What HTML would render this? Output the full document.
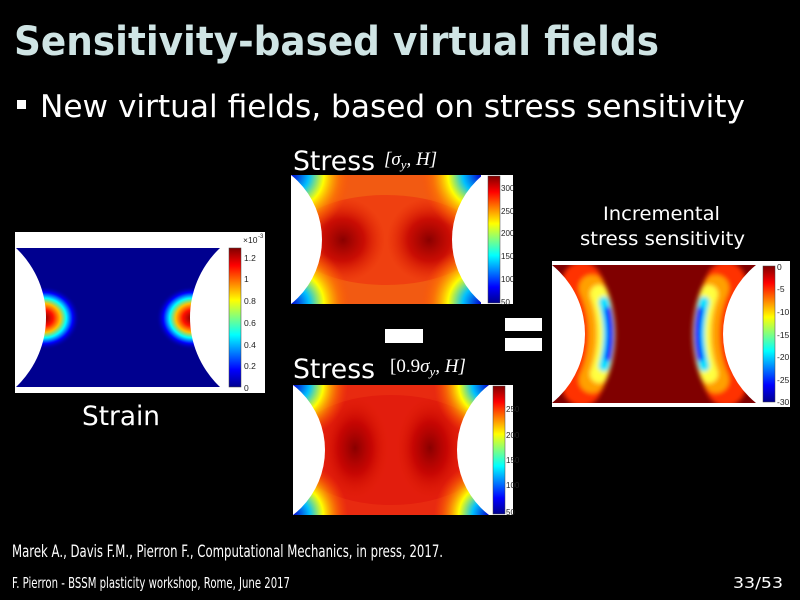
<!DOCTYPE html>
<html><head><meta charset="utf-8"><style>
html,body{margin:0;padding:0;background:#000;}
svg{display:block;}
</style></head><body>
<svg width="800" height="600" viewBox="0 0 800 600" xmlns="http://www.w3.org/2000/svg">
<defs>
<linearGradient id="jet" x1="0" y1="1" x2="0" y2="0">
<stop offset="0" stop-color="#00008f"/><stop offset="0.125" stop-color="#0000ff"/>
<stop offset="0.375" stop-color="#00ffff"/><stop offset="0.625" stop-color="#ffff00"/>
<stop offset="0.875" stop-color="#ff0000"/><stop offset="1" stop-color="#800000"/>
</linearGradient>
<radialGradient id="hot">
<stop offset="0" stop-color="#800000"/><stop offset="0.25" stop-color="#ff1000"/>
<stop offset="0.45" stop-color="#ffc000"/><stop offset="0.62" stop-color="#00ffff"/>
<stop offset="0.8" stop-color="#0000ff"/><stop offset="1" stop-color="#00008f" stop-opacity="0"/>
</radialGradient>
<radialGradient id="corner">
<stop offset="0" stop-color="#0000d0"/><stop offset="0.3" stop-color="#00c0ff"/>
<stop offset="0.55" stop-color="#ffff00"/><stop offset="0.8" stop-color="#ff8000" stop-opacity="0.6"/>
<stop offset="1" stop-color="#ff5000" stop-opacity="0"/>
</radialGradient>
<radialGradient id="blob">
<stop offset="0" stop-color="#8a0000"/><stop offset="0.5" stop-color="#c00000" stop-opacity="0.8"/>
<stop offset="1" stop-color="#e02000" stop-opacity="0"/>
</radialGradient>
<filter id="bl" filterUnits="userSpaceOnUse" x="540" y="250" width="260" height="170"><feGaussianBlur stdDeviation="2.5"/></filter>
<clipPath id="c1"><rect x="16" y="248" width="206" height="139"/></clipPath>
<clipPath id="c2"><rect x="291" y="175" width="190" height="129"/></clipPath>
<clipPath id="c3"><rect x="293" y="385" width="196" height="130"/></clipPath>
<clipPath id="c4"><rect x="552" y="265" width="204" height="138"/></clipPath>
</defs>

<text x="14" y="55" font-family="DejaVu Sans" font-weight="bold" font-size="40" fill="#cfe4e4" textLength="645" lengthAdjust="spacingAndGlyphs">Sensitivity-based virtual fields</text>
<rect x="17" y="100" width="9" height="9" fill="#fff"/>
<text x="40" y="117" font-family="DejaVu Sans" font-size="31" fill="#fff" textLength="705" lengthAdjust="spacingAndGlyphs">New virtual fields, based on stress sensitivity</text>

<!-- Strain panel -->
<rect x="15" y="232" width="250" height="161" fill="#fff"/>
<g clip-path="url(#c1)">
<rect x="16" y="248" width="206" height="139" fill="#00008f"/>
<ellipse cx="44" cy="318" rx="36" ry="32" fill="url(#hot)"/>
<ellipse cx="192" cy="318" rx="36" ry="32" fill="url(#hot)"/>
<circle cx="-49.5" cy="317.5" r="95.5" fill="#fff"/>
<circle cx="285.5" cy="317.5" r="95.5" fill="#fff"/>
</g>
<rect x="229" y="248" width="12" height="139" fill="url(#jet)" stroke="#444" stroke-width="0.5"/>
<g font-family="Liberation Sans" font-size="8.5" fill="#222">
<text x="243" y="243">×10</text><text x="258" y="238" font-size="6">-3</text>
<text x="244" y="261">1.2</text><text x="244" y="282">1</text><text x="244" y="304">0.8</text>
<text x="244" y="326">0.6</text><text x="244" y="348">0.4</text><text x="244" y="369">0.2</text><text x="244" y="391">0</text>
</g>
<text x="82" y="425" font-family="DejaVu Sans" font-size="27" fill="#fff" textLength="78" lengthAdjust="spacingAndGlyphs">Strain</text>

<!-- Stress top -->
<text x="293" y="170" font-family="DejaVu Sans" font-size="27" fill="#fff" textLength="82" lengthAdjust="spacingAndGlyphs">Stress</text>
<text x="384" y="165" font-family="Liberation Serif" font-style="italic" font-size="19" fill="#fff">[σ<tspan font-size="13" dy="4">y</tspan><tspan dy="-4">, H]</tspan></text>
<rect x="291" y="175" width="222" height="129" fill="#fff"/>
<g clip-path="url(#c2)">
<rect x="291" y="175" width="190" height="129" fill="#f25a12"/>
<ellipse cx="386" cy="240" rx="95" ry="45" fill="#ee3a10" opacity="0.8"/>
<ellipse cx="343" cy="240" rx="42" ry="42" fill="url(#blob)"/>
<ellipse cx="429" cy="240" rx="42" ry="42" fill="url(#blob)"/>
<circle cx="291" cy="175" r="60" fill="url(#corner)"/>
<circle cx="481" cy="175" r="60" fill="url(#corner)"/>
<circle cx="291" cy="304" r="60" fill="url(#corner)"/>
<circle cx="481" cy="304" r="60" fill="url(#corner)"/>
<circle cx="239.4" cy="239.5" r="82.6" fill="#fff"/>
<circle cx="534.6" cy="239.5" r="82.6" fill="#fff"/>
</g>
<rect x="488" y="176" width="12" height="127" fill="url(#jet)" stroke="#444" stroke-width="0.5"/>
<g font-family="Liberation Sans" font-size="8" fill="#222">
<text x="501" y="191">300</text><text x="501" y="214">250</text><text x="501" y="236">200</text>
<text x="501" y="259">150</text><text x="501" y="282">100</text><text x="501" y="305">50</text>
</g>

<!-- minus / equals -->
<rect x="385" y="329" width="38" height="14" fill="#fff"/>
<rect x="505" y="318" width="37" height="13" fill="#fff"/>
<rect x="505" y="338" width="37" height="13" fill="#fff"/>

<!-- Stress bottom -->
<text x="293" y="378" font-family="DejaVu Sans" font-size="27" fill="#fff" textLength="82" lengthAdjust="spacingAndGlyphs">Stress</text>
<text x="390" y="372" font-family="Liberation Serif" font-style="italic" font-size="19" fill="#fff"><tspan font-style="normal">[0.9</tspan>σ<tspan font-size="13" dy="4">y</tspan><tspan dy="-4">, H]</tspan></text>
<rect x="293" y="385" width="220" height="130" fill="#fff"/>
<g clip-path="url(#c3)">
<rect x="293" y="385" width="196" height="130" fill="#e82a10"/>
<ellipse cx="391" cy="450" rx="100" ry="55" fill="#e01a0c" opacity="0.8"/>
<ellipse cx="355" cy="448" rx="34" ry="52" fill="url(#blob)"/>
<ellipse cx="430" cy="448" rx="34" ry="52" fill="url(#blob)"/>
<circle cx="293" cy="385" r="55" fill="url(#corner)"/>
<circle cx="489" cy="385" r="55" fill="url(#corner)"/>
<circle cx="293" cy="515" r="55" fill="url(#corner)"/>
<circle cx="489" cy="515" r="55" fill="url(#corner)"/>
<circle cx="243" cy="450" r="82" fill="#fff"/>
<circle cx="539" cy="450" r="82" fill="#fff"/>
</g>
<rect x="493" y="386" width="12" height="128" fill="url(#jet)" stroke="#444" stroke-width="0.5"/>
<g font-family="Liberation Sans" font-size="8" fill="#222">
<text x="506" y="412">250</text><text x="506" y="438">200</text><text x="506" y="463">150</text>
<text x="506" y="488">100</text><text x="506" y="515">50</text>
</g>

<!-- Sensitivity -->
<text x="603" y="220" font-family="DejaVu Sans" font-size="19" fill="#fff" textLength="117" lengthAdjust="spacingAndGlyphs">Incremental</text>
<text x="580" y="245" font-family="DejaVu Sans" font-size="19" fill="#fff" textLength="165" lengthAdjust="spacingAndGlyphs">stress sensitivity</text>
<rect x="552" y="261" width="238" height="146" fill="#fff"/>
<g clip-path="url(#c4)">
<rect x="552" y="265" width="204" height="138" fill="#800000"/>
<g fill="none" stroke-linecap="round" filter="url(#bl)">
<path d="M582,282 A115,115 0 0 1 582,386" stroke="#ff3000" stroke-width="40"/>
<path d="M592,288 A115,115 0 0 1 592,380" stroke="#ffa000" stroke-width="26"/>
<path d="M599,294 A115,115 0 0 1 599,374" stroke="#ffff40" stroke-width="18"/>
<path d="M604,302 A115,115 0 0 1 604,366" stroke="#00e0ff" stroke-width="11"/>
<path d="M608,310 A115,115 0 0 1 608,358" stroke="#0000ff" stroke-width="7"/>
<path d="M726,282 A115,115 0 0 0 726,386" stroke="#ff3000" stroke-width="40"/>
<path d="M716,288 A115,115 0 0 0 716,380" stroke="#ffa000" stroke-width="26"/>
<path d="M709,294 A115,115 0 0 0 709,374" stroke="#ffff40" stroke-width="18"/>
<path d="M704,302 A115,115 0 0 0 704,366" stroke="#00e0ff" stroke-width="11"/>
<path d="M700,310 A115,115 0 0 0 700,358" stroke="#0000ff" stroke-width="7"/>
</g>
<circle cx="496.4" cy="334" r="88.6" fill="#fff"/>
<circle cx="811.6" cy="334" r="88.6" fill="#fff"/>
</g>
<rect x="763" y="266" width="12" height="136" fill="url(#jet)" stroke="#444" stroke-width="0.5"/>
<g font-family="Liberation Sans" font-size="8.5" fill="#222">
<text x="777" y="270">0</text><text x="777" y="292">-5</text><text x="777" y="315">-10</text>
<text x="777" y="338">-15</text><text x="777" y="360">-20</text><text x="777" y="383">-25</text><text x="777" y="405">-30</text>
</g>

<text x="12" y="557" font-family="DejaVu Sans" font-size="17" fill="#fff" textLength="431" lengthAdjust="spacingAndGlyphs">Marek A., Davis F.M., Pierron F., Computational Mechanics, in press, 2017.</text>
<text x="12" y="588" font-family="DejaVu Sans" font-size="15" fill="#fff" textLength="278" lengthAdjust="spacingAndGlyphs">F. Pierron - BSSM plasticity workshop, Rome, June 2017</text>
<text x="733" y="588" font-family="DejaVu Sans" font-size="15" fill="#fff" textLength="50" lengthAdjust="spacingAndGlyphs">33/53</text>
</svg>
</body></html>
